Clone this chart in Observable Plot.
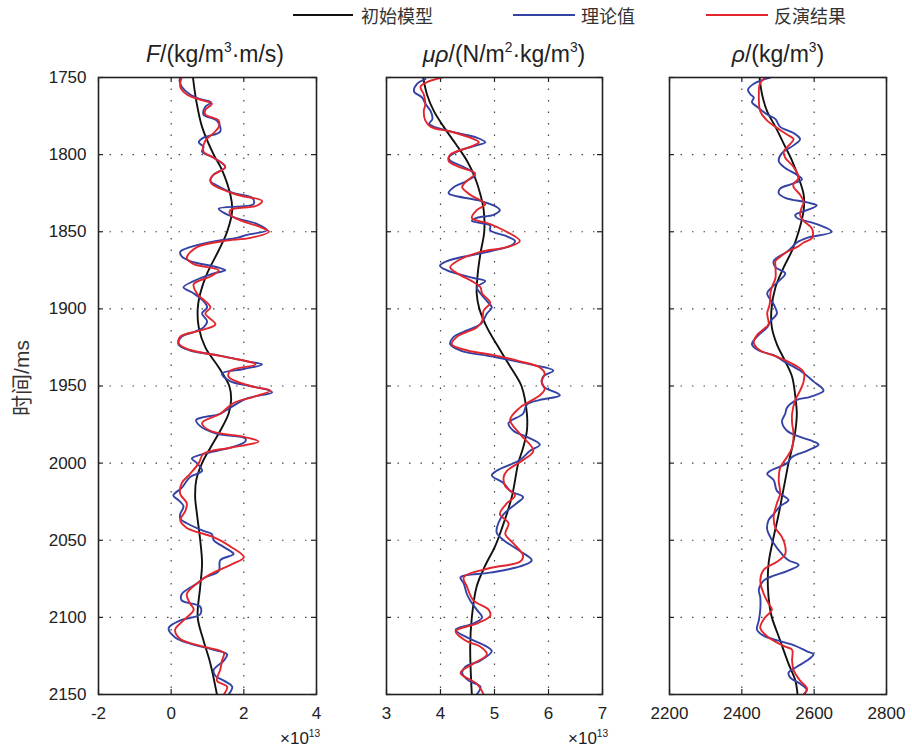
<!DOCTYPE html>
<html><head><meta charset="utf-8">
<script src="https://cdn.jsdelivr.net/npm/d3@7"></script>
<script src="https://cdn.jsdelivr.net/npm/@observablehq/plot@0.6"></script>
<style>
body{margin:0;background:#fff;}
#wrap{position:relative;width:912px;height:751px;overflow:hidden;font-family:"Liberation Sans",Arial,"Noto Sans CJK SC",sans-serif;color:#222;}
#wrap svg{position:absolute;left:0;top:0;}
.title{position:absolute;top:40px;font-size:23px;line-height:28px;white-space:nowrap;transform:translateX(-50%);color:#222;}
.sup{font-size:0.6em;vertical-align:0.7em;line-height:0;}
.legline{position:absolute;top:14px;height:2px;}
.legtxt{position:absolute;top:3px;font-size:18px;line-height:24px;font-family:"Noto Sans CJK SC",sans-serif;color:#333;}
.ylab{position:absolute;left:20px;top:378px;font-size:21px;white-space:nowrap;transform:translate(-50%,-50%) rotate(-90deg);font-family:"Liberation Sans","Noto Sans CJK SC",sans-serif;color:#333;}
.exp{position:absolute;top:728px;font-size:17px;line-height:22px;color:#222;white-space:nowrap;}
</style></head>
<body><div id="wrap"></div>
<script>
// ---- data ----
const timeTicks = [1750,1800,1850,1900,1950,2000,2050,2100,2150];
const fTicks = [-2,0,2,4];
const muTicks = [3,4,5,6,7];
const rhoTicks = [2200,2400,2600,2800];
const legendLabels = ["初始模型","理论值","反演结果"];

// F (x10^13): [time ms, value]
const fInit = [[1750,0.60],[1765,0.69],[1782,0.85],[1800,1.17],[1810,1.40],[1826,1.63],[1836,1.68],[1850,1.54],[1862,1.31],[1877,0.99],[1890,0.80],[1900,0.73],[1912,0.76],[1925,0.94],[1938,1.31],[1950,1.60],[1959,1.65],[1968,1.58],[1979,1.35],[1990,1.08],[2000,0.85],[2011,0.69],[2022,0.66],[2033,0.71],[2050,0.80],[2065,0.85],[2080,0.80],[2100,0.73],[2115,0.89],[2130,1.08],[2150,1.26]];
const fTrue = [[1750,0.25],[1752,0.23],[1756,0.29],[1761,0.52],[1764,0.80],[1766,1.10],[1769,0.94],[1774,0.89],[1778,1.26],[1785,1.35],[1789,0.89],[1792,0.76],[1795,0.89],[1798,0.85],[1802,1.17],[1808,1.49],[1813,1.17],[1817,1.08],[1820,1.26],[1825,1.72],[1828,2.23],[1832,2.27],[1835,1.31],[1837,1.40],[1841,1.77],[1845,2.37],[1849,2.64],[1852,2.09],[1854,1.81],[1856,1.26],[1860,0.52],[1863,0.25],[1866,0.29],[1869,0.52],[1873,1.26],[1875,1.49],[1877,1.17],[1882,0.62],[1886,0.34],[1890,0.62],[1895,0.89],[1899,0.99],[1903,0.85],[1908,0.99],[1912,0.89],[1915,0.62],[1918,0.29],[1923,0.20],[1927,0.52],[1930,1.26],[1934,2.09],[1936,2.50],[1939,2.00],[1942,1.40],[1947,1.63],[1950,2.18],[1954,2.78],[1958,2.09],[1964,1.63],[1968,1.35],[1972,0.69],[1976,0.80],[1981,1.26],[1984,2.04],[1986,2.04],[1990,1.63],[1994,0.89],[1997,0.57],[2000,0.71],[2005,0.85],[2009,0.52],[2016,0.29],[2021,0.06],[2024,0.20],[2028,0.34],[2033,0.25],[2036,0.25],[2039,0.43],[2044,0.89],[2046,1.12],[2050,1.17],[2053,1.35],[2057,1.63],[2059,1.72],[2063,1.35],[2070,1.31],[2074,0.94],[2078,0.71],[2085,0.29],[2089,0.29],[2093,0.80],[2098,0.80],[2102,0.25],[2107,-0.07],[2113,0.11],[2117,0.52],[2121,1.17],[2124,1.54],[2128,1.45],[2134,1.17],[2138,1.22],[2141,1.45],[2145,1.68],[2150,1.58]];
const fInv = [[1750,0.29],[1756,0.25],[1761,0.43],[1765,0.89],[1767,1.12],[1771,0.94],[1774,0.94],[1778,1.31],[1782,1.31],[1786,1.17],[1791,0.94],[1798,0.89],[1802,1.17],[1808,1.49],[1813,1.17],[1816,1.08],[1819,1.12],[1826,1.81],[1830,2.50],[1833,2.37],[1836,1.63],[1839,1.63],[1843,1.95],[1847,2.46],[1850,2.69],[1854,2.18],[1856,1.45],[1860,0.71],[1867,0.43],[1871,0.62],[1875,1.31],[1879,1.08],[1884,0.62],[1890,0.71],[1899,1.08],[1903,0.94],[1910,1.22],[1914,0.80],[1918,0.25],[1922,0.20],[1926,0.43],[1931,1.45],[1936,2.32],[1940,1.63],[1944,1.58],[1950,2.18],[1953,2.73],[1957,2.27],[1961,1.72],[1968,1.35],[1974,0.85],[1979,1.08],[1983,2.00],[1986,2.41],[1990,1.63],[1994,0.89],[2000,0.76],[2007,0.52],[2013,0.29],[2020,0.25],[2026,0.43],[2031,0.39],[2037,0.25],[2042,0.43],[2048,1.17],[2054,1.63],[2061,2.00],[2065,1.72],[2072,1.08],[2078,0.71],[2085,0.43],[2091,0.52],[2095,0.62],[2102,0.34],[2108,0.11],[2114,0.25],[2119,0.89],[2123,1.45],[2128,1.40],[2134,1.35],[2141,1.26],[2145,1.54],[2150,1.45]];

// mu*rho (x10^13)
const muInit = [[1750,3.68],[1761,3.75],[1772,3.88],[1782,4.06],[1793,4.28],[1804,4.49],[1815,4.64],[1826,4.74],[1836,4.80],[1850,4.81],[1864,4.74],[1877,4.69],[1890,4.67],[1900,4.72],[1912,4.86],[1923,5.04],[1934,5.23],[1944,5.41],[1950,5.50],[1968,5.60],[1979,5.60],[1990,5.53],[2000,5.44],[2022,5.32],[2043,5.13],[2054,5.01],[2067,4.82],[2080,4.67],[2100,4.58],[2119,4.55],[2150,4.58]];
const muTrue = [[1751,3.72],[1754,3.57],[1759,3.51],[1763,3.66],[1767,3.72],[1772,3.82],[1777,3.85],[1780,3.79],[1782,3.88],[1786,4.31],[1789,4.67],[1792,4.83],[1794,4.67],[1798,4.31],[1802,4.15],[1804,4.18],[1808,4.43],[1813,4.64],[1817,4.49],[1821,4.25],[1825,4.15],[1827,4.31],[1830,4.74],[1834,5.04],[1836,5.10],[1839,4.98],[1841,4.67],[1843,4.58],[1846,4.92],[1849,4.92],[1853,5.23],[1856,5.38],[1858,5.35],[1860,5.23],[1864,4.74],[1869,4.12],[1872,3.99],[1875,4.12],[1880,4.61],[1882,4.83],[1886,4.67],[1890,4.74],[1895,4.86],[1899,4.95],[1903,4.86],[1907,4.80],[1910,4.74],[1914,4.49],[1918,4.25],[1923,4.18],[1927,4.37],[1931,4.98],[1936,5.66],[1940,6.09],[1944,5.90],[1950,5.90],[1956,6.21],[1959,5.84],[1962,5.60],[1968,5.53],[1974,5.26],[1979,5.35],[1983,5.60],[1988,5.84],[1992,5.66],[1998,5.47],[2005,5.04],[2008,4.95],[2013,5.17],[2018,5.29],[2022,5.53],[2026,5.41],[2033,5.17],[2039,5.07],[2045,5.04],[2050,5.17],[2057,5.47],[2063,5.69],[2067,5.47],[2071,4.92],[2074,4.37],[2078,4.43],[2085,4.49],[2089,4.55],[2095,4.67],[2100,4.77],[2104,4.61],[2108,4.28],[2113,4.49],[2119,4.86],[2122,4.95],[2128,4.74],[2132,4.46],[2136,4.40],[2141,4.52],[2145,4.74],[2150,4.67]];
const muInv = [[1750,4.03],[1753,3.75],[1756,3.63],[1761,3.69],[1767,3.72],[1772,3.69],[1778,3.72],[1782,3.82],[1785,4.18],[1789,4.55],[1792,4.71],[1795,4.55],[1800,4.18],[1804,4.15],[1808,4.34],[1812,4.64],[1817,4.49],[1821,4.40],[1826,4.55],[1832,4.83],[1836,4.67],[1841,4.58],[1845,4.92],[1849,5.17],[1856,5.47],[1860,5.23],[1863,4.74],[1869,4.31],[1873,4.18],[1877,4.31],[1882,4.58],[1886,4.74],[1890,4.77],[1896,4.92],[1901,4.80],[1908,4.77],[1912,4.67],[1918,4.31],[1923,4.21],[1927,4.50],[1930,4.98],[1934,5.47],[1938,5.84],[1942,5.93],[1947,5.87],[1952,5.93],[1956,5.84],[1964,5.47],[1972,5.29],[1981,5.47],[1992,5.72],[1998,5.53],[2005,5.23],[2009,5.17],[2015,5.20],[2021,5.38],[2026,5.23],[2033,5.10],[2039,5.26],[2046,5.20],[2052,5.35],[2060,5.53],[2064,5.47],[2068,4.92],[2074,4.43],[2080,4.49],[2089,4.61],[2095,4.89],[2099,4.92],[2104,4.67],[2109,4.28],[2115,4.46],[2119,4.74],[2124,4.86],[2130,4.61],[2136,4.37],[2143,4.67],[2150,4.80]];

// rho (kg/m3)
const rhoInit = [[1750,2449],[1761,2456],[1772,2470],[1782,2493],[1793,2516],[1804,2539],[1815,2557],[1826,2571],[1836,2571],[1850,2557],[1862,2539],[1873,2516],[1886,2493],[1900,2482],[1912,2483],[1923,2497],[1934,2520],[1944,2539],[1957,2548],[1968,2552],[1979,2548],[1990,2539],[2000,2529],[2011,2520],[2022,2511],[2033,2502],[2050,2486],[2065,2474],[2080,2472],[2093,2477],[2100,2483],[2115,2506],[2130,2529],[2141,2548],[2150,2554]];
const rhoTrue = [[1750,2479],[1754,2433],[1758,2417],[1761,2424],[1763,2433],[1766,2428],[1769,2442],[1774,2470],[1777,2493],[1782,2506],[1786,2543],[1790,2561],[1794,2543],[1799,2511],[1804,2502],[1808,2516],[1813,2552],[1816,2566],[1819,2539],[1822,2506],[1825,2502],[1828,2520],[1831,2580],[1833,2607],[1836,2580],[1839,2548],[1841,2552],[1845,2607],[1850,2649],[1854,2580],[1857,2552],[1860,2539],[1863,2525],[1869,2488],[1873,2493],[1877,2520],[1882,2502],[1886,2483],[1890,2470],[1897,2488],[1903,2497],[1908,2479],[1912,2470],[1918,2442],[1923,2428],[1927,2447],[1930,2488],[1934,2516],[1940,2561],[1947,2598],[1953,2626],[1957,2589],[1959,2552],[1964,2525],[1968,2520],[1973,2511],[1979,2525],[1983,2561],[1986,2598],[1988,2612],[1992,2580],[1996,2539],[2000,2525],[2005,2479],[2007,2470],[2011,2488],[2018,2497],[2022,2520],[2024,2529],[2028,2506],[2033,2488],[2037,2474],[2043,2470],[2048,2479],[2052,2488],[2059,2511],[2063,2529],[2066,2557],[2070,2525],[2073,2488],[2076,2461],[2082,2447],[2087,2451],[2095,2451],[2102,2447],[2108,2442],[2112,2461],[2118,2543],[2122,2580],[2124,2598],[2128,2580],[2132,2552],[2136,2529],[2139,2534],[2143,2561],[2147,2580],[2150,2571]];
const rhoInv = [[1750,2465],[1754,2450],[1761,2447],[1772,2451],[1778,2470],[1782,2493],[1787,2525],[1790,2543],[1793,2534],[1798,2516],[1802,2520],[1808,2543],[1815,2557],[1819,2543],[1821,2543],[1826,2561],[1831,2571],[1834,2566],[1839,2561],[1843,2571],[1848,2594],[1854,2594],[1857,2571],[1860,2552],[1863,2525],[1867,2502],[1869,2493],[1873,2493],[1880,2493],[1886,2483],[1890,2479],[1897,2477],[1903,2470],[1910,2474],[1913,2461],[1917,2442],[1922,2433],[1927,2451],[1931,2497],[1936,2543],[1941,2571],[1947,2571],[1953,2561],[1959,2548],[1968,2539],[1974,2539],[1981,2543],[1990,2539],[1996,2525],[2003,2506],[2011,2502],[2020,2506],[2026,2497],[2035,2488],[2042,2493],[2048,2511],[2054,2520],[2059,2520],[2064,2497],[2069,2461],[2076,2451],[2085,2461],[2091,2474],[2095,2483],[2101,2461],[2107,2451],[2113,2474],[2119,2520],[2121,2539],[2128,2539],[2134,2543],[2141,2561],[2146,2580],[2150,2571]];

// ---- drawing ----
const W = 912, H = 751, TOP = 77, BOTTOM = 694;
const colors = {init:"#111111", truth:"#3342a4", inv:"#e3262d"};
const wrap = document.getElementById("wrap");

function panel({left, right, ticks, init, truth, inv, showY}) {
  const innerX = ticks.slice(1, -1);
  const innerY = timeTicks.slice(1, -1);
  const ph = BOTTOM - TOP, pw = right - left, tk = 5;
  const marks = [
    Plot.ruleX(innerX, {stroke:"#444", strokeWidth:1.2, strokeDasharray:"1.5,10"}),
    Plot.ruleY(innerY, {stroke:"#444", strokeWidth:1.2, strokeDasharray:"1.5,10"}),
    Plot.ruleX(ticks, {stroke:"#222", strokeWidth:1.2, insetTop: ph - tk}),
    Plot.ruleX(ticks, {stroke:"#222", strokeWidth:1.2, insetBottom: ph - tk}),
    Plot.ruleY(timeTicks, {stroke:"#222", strokeWidth:1.2, insetRight: pw - tk}),
    Plot.ruleY(timeTicks, {stroke:"#222", strokeWidth:1.2, insetLeft: pw - tk}),
    Plot.line(init, {x: d => d[1], y: d => d[0], stroke: colors.init, strokeWidth: 1.9, curve: "catmull-rom", clip: true}),
    Plot.line(truth, {x: d => d[1], y: d => d[0], stroke: colors.truth, strokeWidth: 1.9, curve: "catmull-rom", clip: true}),
    Plot.line(inv, {x: d => d[1], y: d => d[0], stroke: colors.inv, strokeWidth: 1.9, curve: "catmull-rom", clip: true}),
    Plot.frame({stroke:"#222", strokeWidth:1.6}),
    Plot.axisX({ticks, tickSize: 0, tickPadding: 12, fontSize: 17, label: null, tickFormat: d => String(d)}),
  ];
  if (showY) marks.push(Plot.axisY({ticks: timeTicks, tickSize: 0, tickPadding: 12, fontSize: 17, label: null, tickFormat: d => String(d)}));
  else marks.push(Plot.axisY({ticks: [], label: null, tickSize: 0}));
  const svg = Plot.plot({
    width: W, height: H,
    marginTop: TOP, marginBottom: H - BOTTOM, marginLeft: left, marginRight: W - right,
    style: {background: "transparent", fontFamily: '"Liberation Sans", Arial, sans-serif', color: "#222", overflow: "visible"},
    x: {domain: [ticks[0], ticks[ticks.length - 1]]},
    y: {domain: [timeTicks[0], timeTicks[timeTicks.length - 1]], reverse: true},
    marks
  });
  wrap.appendChild(svg);
}

panel({left: 98, right: 316, ticks: fTicks, init: fInit, truth: fTrue, inv: fInv, showY: true});
panel({left: 386, right: 602, ticks: muTicks, init: muInit, truth: muTrue, inv: muInv, showY: false});
panel({left: 669, right: 886, ticks: rhoTicks, init: rhoInit, truth: rhoTrue, inv: rhoInv, showY: false});

function addHTML(cls, style, html) {
  const d = document.createElement("div");
  d.className = cls; Object.assign(d.style, style); d.innerHTML = html; wrap.appendChild(d); return d;
}
addHTML("title", {left: "215px"}, '<i>F</i>/(kg/m<span class="sup">3</span>·m/s)');
addHTML("title", {left: "504px"}, '<i>μρ</i>/(N/m<span class="sup">2</span>·kg/m<span class="sup">3</span>)');
addHTML("title", {left: "778px"}, '<i>ρ</i>/(kg/m<span class="sup">3</span>)');
addHTML("ylab", {}, "时间/ms");
addHTML("exp", {left: "280px"}, '×10<span class="sup">13</span>');
addHTML("exp", {left: "568px"}, '×10<span class="sup">13</span>');

// legend
const legPos = [[293, 60, 361], [513, 62, 581], [706, 62, 774]];
const legCols = [colors.init, colors.truth, colors.inv];
legendLabels.forEach((lab, i) => {
  const [x, w, tx] = legPos[i];
  addHTML("legline", {left: x + "px", width: w + "px", background: legCols[i]}, "");
  addHTML("legtxt", {left: tx + "px"}, lab);
});
</script>
</body></html>
